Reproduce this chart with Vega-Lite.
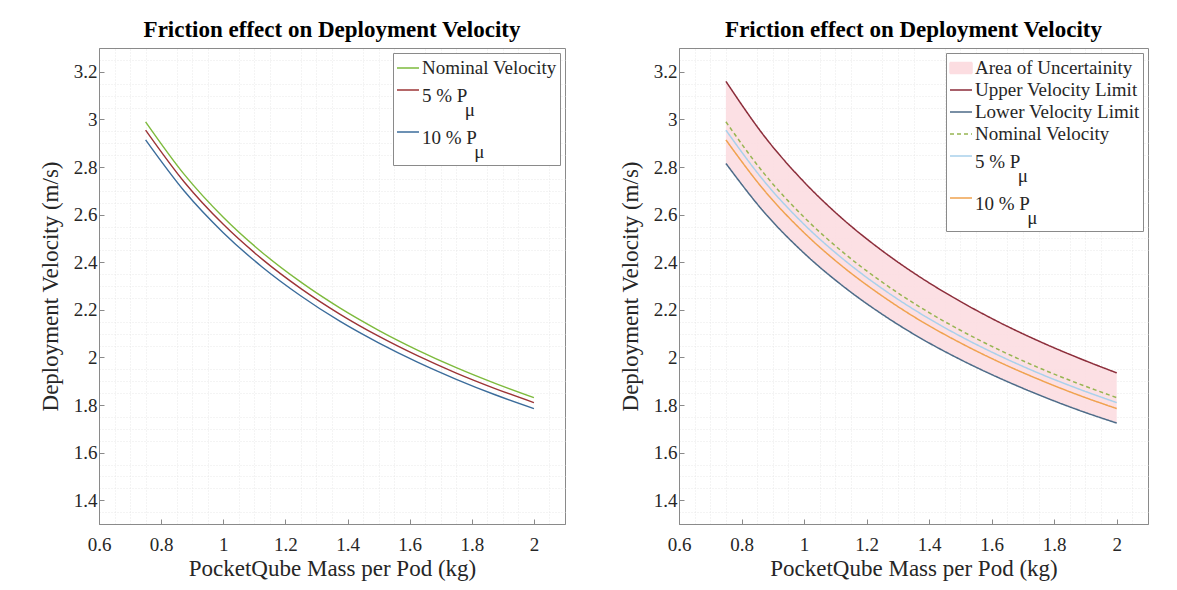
{
  "$schema": "https://vega.github.io/schema/vega-lite/v6.json",
  "padding": {"left": 38, "top": 18, "right": 5, "bottom": 5},
  "background": "white",
  "spacing": 114,
  "bounds": "flush",
  "datasets": {
    "left": [
      {"m": 0.75, "s": "Nominal Velocity", "v": 2.990}, {"m": 0.875, "s": "Nominal Velocity", "v": 2.768}, {"m": 1.0, "s": "Nominal Velocity", "v": 2.589}, {"m": 1.125, "s": "Nominal Velocity", "v": 2.441}, {"m": 1.25, "s": "Nominal Velocity", "v": 2.316}, {"m": 1.375, "s": "Nominal Velocity", "v": 2.208}, {"m": 1.5, "s": "Nominal Velocity", "v": 2.114}, {"m": 1.625, "s": "Nominal Velocity", "v": 2.031}, {"m": 1.75, "s": "Nominal Velocity", "v": 1.957}, {"m": 1.875, "s": "Nominal Velocity", "v": 1.891}, {"m": 2.0, "s": "Nominal Velocity", "v": 1.831},
      {"m": 0.75, "s": "5 % Pμ", "v": 2.955}, {"m": 0.875, "s": "5 % Pμ", "v": 2.736}, {"m": 1.0, "s": "5 % Pμ", "v": 2.559}, {"m": 1.125, "s": "5 % Pμ", "v": 2.413}, {"m": 1.25, "s": "5 % Pμ", "v": 2.289}, {"m": 1.375, "s": "5 % Pμ", "v": 2.182}, {"m": 1.5, "s": "5 % Pμ", "v": 2.089}, {"m": 1.625, "s": "5 % Pμ", "v": 2.007}, {"m": 1.75, "s": "5 % Pμ", "v": 1.934}, {"m": 1.875, "s": "5 % Pμ", "v": 1.869}, {"m": 2.0, "s": "5 % Pμ", "v": 1.810},
      {"m": 0.75, "s": "10 % Pμ", "v": 2.914}, {"m": 0.875, "s": "10 % Pμ", "v": 2.698}, {"m": 1.0, "s": "10 % Pμ", "v": 2.524}, {"m": 1.125, "s": "10 % Pμ", "v": 2.380}, {"m": 1.25, "s": "10 % Pμ", "v": 2.258}, {"m": 1.375, "s": "10 % Pμ", "v": 2.152}, {"m": 1.5, "s": "10 % Pμ", "v": 2.061}, {"m": 1.625, "s": "10 % Pμ", "v": 1.980}, {"m": 1.75, "s": "10 % Pμ", "v": 1.908}, {"m": 1.875, "s": "10 % Pμ", "v": 1.843}, {"m": 2.0, "s": "10 % Pμ", "v": 1.785}
    ],
    "right": [
      {"m": 0.75, "s": "Upper Velocity Limit", "v": 3.160}, {"m": 0.875, "s": "Upper Velocity Limit", "v": 2.926}, {"m": 1.0, "s": "Upper Velocity Limit", "v": 2.737}, {"m": 1.125, "s": "Upper Velocity Limit", "v": 2.580}, {"m": 1.25, "s": "Upper Velocity Limit", "v": 2.448}, {"m": 1.375, "s": "Upper Velocity Limit", "v": 2.334}, {"m": 1.5, "s": "Upper Velocity Limit", "v": 2.235}, {"m": 1.625, "s": "Upper Velocity Limit", "v": 2.147}, {"m": 1.75, "s": "Upper Velocity Limit", "v": 2.069}, {"m": 1.875, "s": "Upper Velocity Limit", "v": 1.999}, {"m": 2.0, "s": "Upper Velocity Limit", "v": 1.935},
      {"m": 0.75, "s": "Lower Velocity Limit", "v": 2.815}, {"m": 0.875, "s": "Lower Velocity Limit", "v": 2.606}, {"m": 1.0, "s": "Lower Velocity Limit", "v": 2.438}, {"m": 1.125, "s": "Lower Velocity Limit", "v": 2.299}, {"m": 1.25, "s": "Lower Velocity Limit", "v": 2.181}, {"m": 1.375, "s": "Lower Velocity Limit", "v": 2.079}, {"m": 1.5, "s": "Lower Velocity Limit", "v": 1.991}, {"m": 1.625, "s": "Lower Velocity Limit", "v": 1.913}, {"m": 1.75, "s": "Lower Velocity Limit", "v": 1.843}, {"m": 1.875, "s": "Lower Velocity Limit", "v": 1.780}, {"m": 2.0, "s": "Lower Velocity Limit", "v": 1.724},
      {"m": 0.75, "s": "Nominal Velocity", "v": 2.990}, {"m": 0.875, "s": "Nominal Velocity", "v": 2.768}, {"m": 1.0, "s": "Nominal Velocity", "v": 2.589}, {"m": 1.125, "s": "Nominal Velocity", "v": 2.441}, {"m": 1.25, "s": "Nominal Velocity", "v": 2.316}, {"m": 1.375, "s": "Nominal Velocity", "v": 2.208}, {"m": 1.5, "s": "Nominal Velocity", "v": 2.114}, {"m": 1.625, "s": "Nominal Velocity", "v": 2.031}, {"m": 1.75, "s": "Nominal Velocity", "v": 1.957}, {"m": 1.875, "s": "Nominal Velocity", "v": 1.891}, {"m": 2.0, "s": "Nominal Velocity", "v": 1.831},
      {"m": 0.75, "s": "5 % Pμ", "v": 2.955}, {"m": 0.875, "s": "5 % Pμ", "v": 2.736}, {"m": 1.0, "s": "5 % Pμ", "v": 2.559}, {"m": 1.125, "s": "5 % Pμ", "v": 2.413}, {"m": 1.25, "s": "5 % Pμ", "v": 2.289}, {"m": 1.375, "s": "5 % Pμ", "v": 2.182}, {"m": 1.5, "s": "5 % Pμ", "v": 2.089}, {"m": 1.625, "s": "5 % Pμ", "v": 2.007}, {"m": 1.75, "s": "5 % Pμ", "v": 1.934}, {"m": 1.875, "s": "5 % Pμ", "v": 1.869}, {"m": 2.0, "s": "5 % Pμ", "v": 1.810},
      {"m": 0.75, "s": "10 % Pμ", "v": 2.914}, {"m": 0.875, "s": "10 % Pμ", "v": 2.698}, {"m": 1.0, "s": "10 % Pμ", "v": 2.524}, {"m": 1.125, "s": "10 % Pμ", "v": 2.380}, {"m": 1.25, "s": "10 % Pμ", "v": 2.258}, {"m": 1.375, "s": "10 % Pμ", "v": 2.152}, {"m": 1.5, "s": "10 % Pμ", "v": 2.061}, {"m": 1.625, "s": "10 % Pμ", "v": 1.980}, {"m": 1.75, "s": "10 % Pμ", "v": 1.908}, {"m": 1.875, "s": "10 % Pμ", "v": 1.843}, {"m": 2.0, "s": "10 % Pμ", "v": 1.785}
    ],
    "band": [
      {"m": 0.75, "lo": 2.815, "hi": 3.160}, {"m": 0.875, "lo": 2.606, "hi": 2.926}, {"m": 1.0, "lo": 2.438, "hi": 2.737}, {"m": 1.125, "lo": 2.299, "hi": 2.580}, {"m": 1.25, "lo": 2.181, "hi": 2.448}, {"m": 1.375, "lo": 2.079, "hi": 2.334}, {"m": 1.5, "lo": 1.991, "hi": 2.235}, {"m": 1.625, "lo": 1.913, "hi": 2.147}, {"m": 1.75, "lo": 1.843, "hi": 2.069}, {"m": 1.875, "lo": 1.780, "hi": 1.999}, {"m": 2.0, "lo": 1.724, "hi": 1.935}
    ]
  },
  "hconcat": [
    {
      "title": "Friction effect on Deployment Velocity",
      "width": 466,
      "height": 476,
      "data": {"name": "left"},
      "layer": [
        {
          "mark": {"type": "line", "opacity": 0},
          "encoding": {
            "x": {"field": "m", "type": "quantitative", "scale": {"domain": [0.6, 2.1], "nice": false, "zero": false},
              "axis": {"orient": "top", "values": [0.65,0.7,0.75,0.85,0.9,0.95,1.05,1.1,1.15,1.25,1.3,1.35,1.45,1.5,1.55,1.65,1.7,1.75,1.85,1.9,1.95,2.05], "grid": true, "gridDash": [1, 2], "gridColor": "#e3e3e3", "labels": false, "ticks": false, "domain": false, "title": null}},
            "y": {"field": "v", "type": "quantitative", "scale": {"domain": [1.3, 3.3], "nice": false, "zero": false},
              "axis": {"orient": "right", "values": [1.35,1.45,1.5,1.55,1.65,1.7,1.75,1.85,1.9,1.95,2.05,2.1,2.15,2.25,2.3,2.35,2.45,2.5,2.55,2.65,2.7,2.75,2.85,2.9,2.95,3.05,3.1,3.15,3.25], "grid": true, "gridDash": [1, 2], "gridColor": "#e3e3e3", "labels": false, "ticks": false, "domain": false, "title": null}}
          }
        },
        {
          "mark": {"type": "line", "strokeWidth": 1.4, "interpolate": "monotone"},
          "encoding": {
            "x": {"field": "m", "type": "quantitative",
              "axis": {"values": [0.6,0.8,1,1.2,1.4,1.6,1.8,2], "format": "~g", "title": "PocketQube Mass per Pod (kg)", "tickSize": -5, "labelPadding": 16, "titlePadding": 3}},
            "y": {"field": "v", "type": "quantitative",
              "axis": {"values": [1.4,1.6,1.8,2,2.2,2.4,2.6,2.8,3,3.2], "format": "~g", "title": "Deployment Velocity (m/s)", "tickSize": -5, "labelPadding": 7, "titlePadding": 11}},
            "color": {"field": "s", "type": "nominal",
              "scale": {"domain": ["Nominal Velocity", "5 % Pμ", "10 % Pμ"], "range": ["#7dba3c", "#9c3436", "#3b6c9b"]},
              "legend": {"title": null, "orient": "top-right", "offset": 5,
                "labelExpr": "datum.label === '5 % Pμ' ? ['5 % P', '\u200b\u00a0\u00a0\u00a0\u00a0\u00a0\u00a0\u00a0\u00a0\u00a0μ'] : datum.label === '10 % Pμ' ? ['10 % P', '\u200b\u00a0\u00a0\u00a0\u00a0\u00a0\u00a0\u00a0\u00a0\u00a0\u00a0\u00a0μ'] : datum.label",
                "encode": {"labels": {"update": {"lineHeight": {"value": 14}, "dy": {"signal": "indexof(datum.value, 'μ') >= 0 ? 6 : 0"}}}}}}
          }
        }
      ],
      "resolve": {"axis": {"x": "independent", "y": "independent"}}
    },
    {
      "title": "Friction effect on Deployment Velocity",
      "width": 469,
      "height": 476,
      "layer": [
        {
          "data": {"name": "right"},
          "mark": {"type": "line", "opacity": 0},
          "encoding": {
            "x": {"field": "m", "type": "quantitative", "scale": {"domain": [0.6, 2.1], "nice": false, "zero": false},
              "axis": {"orient": "top", "values": [0.65,0.7,0.75,0.85,0.9,0.95,1.05,1.1,1.15,1.25,1.3,1.35,1.45,1.5,1.55,1.65,1.7,1.75,1.85,1.9,1.95,2.05], "grid": true, "gridDash": [1, 2], "gridColor": "#e3e3e3", "labels": false, "ticks": false, "domain": false, "title": null}},
            "y": {"field": "v", "type": "quantitative", "scale": {"domain": [1.3, 3.3], "nice": false, "zero": false},
              "axis": {"orient": "right", "values": [1.35,1.45,1.5,1.55,1.65,1.7,1.75,1.85,1.9,1.95,2.05,2.1,2.15,2.25,2.3,2.35,2.45,2.5,2.55,2.65,2.7,2.75,2.85,2.9,2.95,3.05,3.1,3.15,3.25], "grid": true, "gridDash": [1, 2], "gridColor": "#e3e3e3", "labels": false, "ticks": false, "domain": false, "title": null}}
          }
        },
        {
          "data": {"name": "band"},
          "mark": {"type": "area", "color": "#fcdde1", "opacity": 0.9, "interpolate": "monotone"},
          "encoding": {
            "x": {"field": "m", "type": "quantitative",
              "axis": {"values": [0.6,0.8,1,1.2,1.4,1.6,1.8,2], "format": "~g", "title": "PocketQube Mass per Pod (kg)", "tickSize": -5, "labelPadding": 16, "titlePadding": 3}},
            "y": {"field": "hi", "type": "quantitative",
              "axis": {"values": [1.4,1.6,1.8,2,2.2,2.4,2.6,2.8,3,3.2], "format": "~g", "title": "Deployment Velocity (m/s)", "tickSize": -5, "labelPadding": 7, "titlePadding": 11}},
            "y2": {"field": "lo"}
          }
        },
        {
          "data": {"name": "right"},
          "mark": {"type": "line", "strokeWidth": 1.5, "interpolate": "monotone"},
          "encoding": {
            "x": {"field": "m", "type": "quantitative", "axis": null},
            "y": {"field": "v", "type": "quantitative", "axis": null},
            "color": {"field": "s", "type": "nominal",
              "scale": {"domain": ["Area of Uncertainity", "Upper Velocity Limit", "Lower Velocity Limit", "Nominal Velocity", "5 % Pμ", "10 % Pμ"], "range": ["#fcdde1", "#8c2d3a", "#4d6b88", "#97b552", "#a9d1ec", "#f0a24f"]},
              "legend": {"title": null, "orient": "top-right", "offset": 5,
                "labelExpr": "datum.label === '5 % Pμ' ? ['5 % P', '\u200b\u00a0\u00a0\u00a0\u00a0\u00a0\u00a0\u00a0\u00a0\u00a0μ'] : datum.label === '10 % Pμ' ? ['10 % P', '\u200b\u00a0\u00a0\u00a0\u00a0\u00a0\u00a0\u00a0\u00a0\u00a0\u00a0\u00a0μ'] : datum.label",
                "encode": {
                  "labels": {"update": {"lineHeight": {"value": 14}, "dy": {"signal": "indexof(datum.value, 'μ') >= 0 ? 6 : 0"}}},
                  "symbols": {"update": {
                  "shape": {"signal": "datum.value === 'Area of Uncertainity' ? 'M-1,-0.5H1V0.5H-1Z' : 'stroke'"},
                  "fill": {"signal": "datum.value === 'Area of Uncertainity' ? '#fcdde1' : 'transparent'"},
                  "strokeDash": {"signal": "datum.value === 'Nominal Velocity' ? [4, 3] : [1, 0]"}
                }}}}},
            "strokeDash": {"field": "s", "type": "nominal",
              "scale": {"domain": ["Upper Velocity Limit", "Lower Velocity Limit", "Nominal Velocity", "5 % Pμ", "10 % Pμ"], "range": [[1, 0], [1, 0], [4, 3], [1, 0], [1, 0]]},
              "legend": null}
          }
        }
      ],
      "resolve": {"axis": {"x": "independent", "y": "independent"}}
    }
  ],
  "resolve": {"scale": {"color": "independent", "strokeDash": "independent"}, "legend": {"color": "independent"}},
  "config": {
    "font": "Liberation Serif",
    "view": {"stroke": "#8a8a8a", "strokeWidth": 1},
    "axis": {"labelFont": "Liberation Serif", "labelFontSize": 19, "labelColor": "#262626", "titleFont": "Liberation Serif", "titleFontSize": 23, "titleFontWeight": "normal", "titleColor": "#262626", "domainColor": "#8a8a8a", "tickColor": "#8a8a8a", "gridColor": "#dcdcdc", "gridWidth": 0.8, "labelFlush": false},
    "title": {"font": "Liberation Serif", "fontSize": 23, "fontWeight": "bold", "color": "#000000", "offset": 6},
    "legend": {"labelFont": "Liberation Serif", "labelFontSize": 19, "labelColor": "#262626", "labelLimit": 400, "fillColor": "white", "strokeColor": "#8a8a8a", "padding": 3, "rowPadding": 0, "symbolSize": 484, "symbolStrokeWidth": 1.5, "symbolType": "stroke", "labelOffset": 2}
  }
}
